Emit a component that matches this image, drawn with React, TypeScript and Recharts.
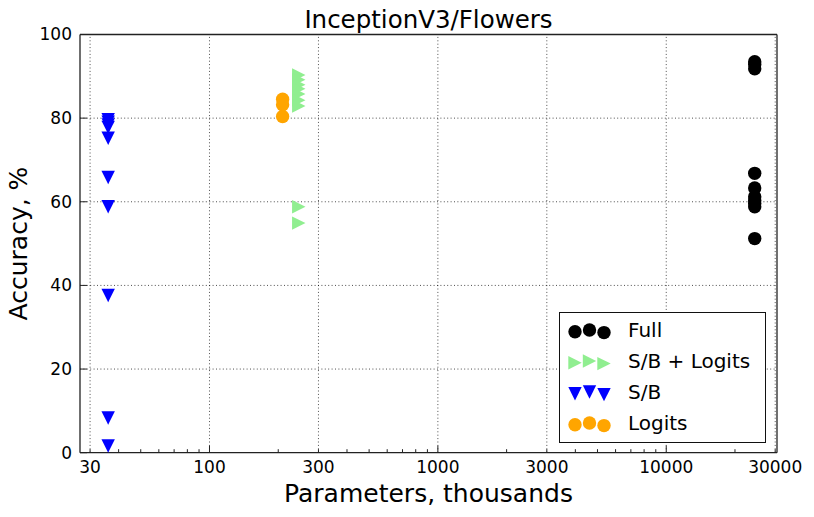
import React from 'react';
import {
  Legend,
  ReferenceLine,
  Scatter,
  ScatterChart,
  XAxis,
  YAxis,
} from 'recharts';

const FONT = '"DejaVu Sans", Verdana, sans-serif';
const FRAME = '#222';

// tick values
const MAJOR_X = [30, 100, 300, 1000, 3000, 10000, 30000];
const MINOR_X = [40, 50, 60, 70, 80, 90, 200, 400, 500, 600, 700, 800, 900, 2000, 4000, 5000, 6000, 7000, 8000, 9000, 20000];
const DECADES = [100, 1000, 10000];
const Y_TICKS = [0, 20, 40, 60, 80, 100];
const X_DOMAIN = [27.1, 30550];

// parameters (thousands) and accuracies per method
const FULL_PARAMS = 24400;
const FULL_ACC = [93.5, 92.8, 91.8, 66.8, 63.3, 61.2, 60.3, 59.6, 58.8, 51.2];
const SB_LOGITS_PARAMS = 246;
const SB_LOGITS_ACC = [90.3, 89.2, 88.0, 87.0, 85.8, 84.3, 82.9, 58.8, 54.9];
const SB_PARAMS = 36;
const SB_ACC = [79.6, 79.0, 78.4, 77.8, 75.2, 65.8, 58.8, 37.6, 8.3, 1.6];
const LOGITS_PARAMS = 209;
const LOGITS_ACC = [84.5, 83.2, 80.4];

const toPoints = (x: number, ys: number[]) => ys.map((y) => ({ x, y }));

const R = 6.7;

function Marker({ kind, cx, cy, fill }: { kind: string; cx: number; cy: number; fill: string }) {
  if (kind === 'down') {
    return <polygon points={`${cx - R},${cy - R} ${cx + R},${cy - R} ${cx},${cy + R}`} fill={fill} />;
  }
  if (kind === 'right') {
    return <polygon points={`${cx - R},${cy - R} ${cx + R},${cy} ${cx - R},${cy + R}`} fill={fill} />;
  }
  return <circle cx={cx} cy={cy} r={R} fill={fill} />;
}

const SERIES = [
  { name: 'Full', kind: 'circle', color: '#000000', data: toPoints(FULL_PARAMS, FULL_ACC) },
  { name: 'S/B + Logits', kind: 'right', color: '#90EE90', data: toPoints(SB_LOGITS_PARAMS, SB_LOGITS_ACC) },
  { name: 'S/B', kind: 'down', color: '#0000FF', data: toPoints(SB_PARAMS, SB_ACC) },
  { name: 'Logits', kind: 'circle', color: '#FFA500', data: toPoints(LOGITS_PARAMS, LOGITS_ACC) },
];

const tickLen = (v: number) => (DECADES.includes(v) ? 7 : 3.5);

function BottomTick({ x, y, payload }: any) {
  const v = payload.value;
  return (
    <g>
      <line x1={x} x2={x} y1={y} y2={y - tickLen(v)} stroke={FRAME} strokeWidth={1} />
      {MAJOR_X.includes(v) && (
        <text x={x} y={y + 8} dy="0.71em" textAnchor="middle" fontSize={17} fontFamily={FONT} fill="#000">
          {v}
        </text>
      )}
    </g>
  );
}

function TopTick({ x, y, payload }: any) {
  return <line x1={x} x2={x} y1={y} y2={y + tickLen(payload.value)} stroke={FRAME} strokeWidth={1} />;
}

function LeftTick({ x, y, payload }: any) {
  return (
    <g>
      <line x1={x} x2={x + 7} y1={y} y2={y} stroke={FRAME} strokeWidth={1} />
      <text x={x - 8} y={y} dy="0.35em" textAnchor="end" fontSize={17} fontFamily={FONT} fill="#000">
        {payload.value}
      </text>
    </g>
  );
}

function RightTick({ x, y }: any) {
  return <line x1={x} x2={x - 7} y1={y} y2={y} stroke={FRAME} strokeWidth={1} />;
}

function LegendBox({ payload }: any) {
  const names = (payload || []).map((p: any) => p.value);
  const rows = SERIES.filter((s) => names.includes(s.name));
  return (
    <div
      style={{
        border: '1.3px solid #111',
        background: '#fff',
        width: 207,
        height: 131,
        boxSizing: 'border-box',
        paddingTop: 2,
        fontFamily: FONT,
        fontSize: 20,
      }}
    >
      {rows.map((s) => (
        <div key={s.name} style={{ display: 'flex', alignItems: 'center', height: 31 }}>
          <svg width={64} height={30} style={{ flex: 'none' }}>
            <Marker kind={s.kind} cx={15} cy={16.8} fill={s.color} />
            <Marker kind={s.kind} cx={29.5} cy={15} fill={s.color} />
            <Marker kind={s.kind} cx={44} cy={17.6} fill={s.color} />
          </svg>
          <span style={{ marginLeft: 4, lineHeight: 1, color: '#000' }}>{s.name}</span>
        </div>
      ))}
    </div>
  );
}

export default function App() {
  return (
    <div style={{ position: 'absolute', left: 0, top: 0, width: 814, height: 517, background: '#fff' }}>
      <div
        style={{
          position: 'absolute',
          left: 80,
          width: 697,
          top: 8,
          textAlign: 'center',
          fontFamily: FONT,
          fontSize: 24.5,
          lineHeight: 1,
        }}
      >
        InceptionV3/Flowers
      </div>
      <div
        style={{
          position: 'absolute',
          left: 80,
          width: 697,
          top: 480.5,
          textAlign: 'center',
          fontFamily: FONT,
          fontSize: 25,
          lineHeight: 1,
        }}
      >
        Parameters, thousands
      </div>
      <div
        style={{
          position: 'absolute',
          left: -132,
          width: 300,
          top: 231,
          textAlign: 'center',
          fontFamily: FONT,
          fontSize: 25,
          lineHeight: 1,
          transform: 'rotate(-90deg)',
          transformOrigin: '150px 12.5px',
        }}
      >
        Accuracy, %
      </div>
      <div style={{ position: 'absolute', left: 0, top: 0 }}>
        <ScatterChart width={814} height={517} margin={{ top: 33.5, right: 36, bottom: 0, left: 79 }}>
          <XAxis
            dataKey="x"
            type="number"
            scale="log"
            domain={X_DOMAIN}
            allowDataOverflow
            ticks={[...MAJOR_X, ...MINOR_X]}
            interval={0}
            height={64.3}
            tickSize={0}
            tickMargin={0}
            tickLine={false}
            tick={<BottomTick />}
            axisLine={{ stroke: FRAME, strokeWidth: 1.3 }}
          />
          <XAxis
            xAxisId="top"
            orientation="top"
            type="number"
            scale="log"
            domain={X_DOMAIN}
            allowDataOverflow
            ticks={[...MAJOR_X, ...MINOR_X]}
            interval={0}
            height={1}
            tickSize={0}
            tickMargin={0}
            tickLine={false}
            tick={<TopTick />}
            axisLine={{ stroke: FRAME, strokeWidth: 1.3 }}
          />
          <YAxis
            dataKey="y"
            type="number"
            domain={[0, 100]}
            ticks={Y_TICKS}
            interval={0}
            width={1}
            tickSize={0}
            tickMargin={0}
            tickLine={false}
            tick={<LeftTick />}
            axisLine={{ stroke: FRAME, strokeWidth: 1.3 }}
          />
          <YAxis
            yAxisId="right"
            orientation="right"
            type="number"
            domain={[0, 100]}
            ticks={Y_TICKS}
            interval={0}
            width={1}
            tickSize={0}
            tickMargin={0}
            tickLine={false}
            tick={<RightTick />}
            axisLine={{ stroke: FRAME, strokeWidth: 1.3 }}
          />
          {MAJOR_X.map((v) => (
            <ReferenceLine key={`gx${v}`} x={v} stroke="#000" strokeWidth={0.7} strokeDasharray="1 2.4" />
          ))}
          {Y_TICKS.slice(1, -1).map((v) => (
            <ReferenceLine key={`gy${v}`} y={v} stroke="#000" strokeWidth={0.7} strokeDasharray="1 2.4" />
          ))}
          {SERIES.map((s) => (
            <Scatter
              key={s.name}
              name={s.name}
              data={s.data}
              fill={s.color}
              isAnimationActive={false}
              shape={(p: any) => <Marker kind={s.kind} cx={p.cx} cy={p.cy} fill={s.color} />}
            />
          ))}
          <Legend
            layout="vertical"
            align="center"
            verticalAlign="middle"
            content={<LegendBox />}
            wrapperStyle={{ left: 559, top: 311.5, width: 207, height: 131 }}
          />
        </ScatterChart>
      </div>
    </div>
  );
}
